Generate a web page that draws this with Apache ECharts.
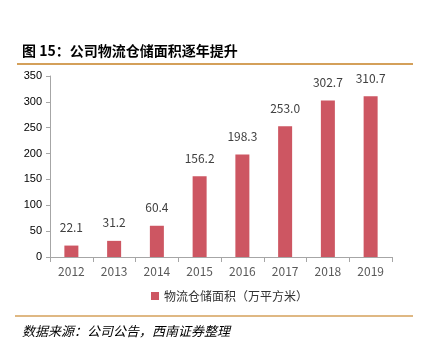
<!DOCTYPE html>
<html><head><meta charset="utf-8">
<script src="https://cdn.jsdelivr.net/npm/echarts@6/dist/echarts.min.js"></script>
<style>html,body{margin:0;padding:0;background:#fff}#c{width:428px;height:341px}</style>
</head><body><div id="c"></div>
<script>
const categories = ['2012','2013','2014','2015','2016','2017','2018','2019'];
const areaValues = [22.1, 31.2, 60.4, 156.2, 198.3, 253.0, 302.7, 310.7];
const seriesName = '物流仓储面积（万平方米）';
const titleText = '图 15：公司物流仓储面积逐年提升';
const sourceText = '数据来源：公司公告，西南证券整理';

const chart = echarts.init(document.getElementById('c'), null, {renderer:'canvas'});
const font = '"Noto Sans CJK SC", "Liberation Sans", sans-serif';
chart.setOption({
  animation:false,
  textStyle:{fontFamily:font},
  title:[
    {text:titleText, left:17, top:39, textStyle:{fontSize:14, fontWeight:'bold', color:'#000', fontFamily:font}},
    {text:sourceText, left:17, top:320, textStyle:{fontSize:13, fontWeight:'normal', fontStyle:'italic', color:'#000', fontFamily:font}}
  ],
  graphic:[
    {type:'line', shape:{x1:17,y1:64,x2:413,y2:64}, style:{stroke:'#d4a05a', lineWidth:2}},
    {type:'line', shape:{x1:15,y1:316,x2:413,y2:316}, style:{stroke:'#d4a05a', lineWidth:1.5}}
  ],
  grid:{left:50, right:36, top:76, bottom:84, containLabel:false},
  legend:{top:285, left:146, itemWidth:8, itemHeight:8, itemGap:3, icon:'rect',
    textStyle:{fontSize:12, color:'#333', fontFamily:font}, data:[seriesName]},
  xAxis:{type:'category', data:categories,
    axisLine:{lineStyle:{color:'#a6a6a6'}},
    axisTick:{show:true, alignWithLabel:false, lineStyle:{color:'#a6a6a6'}},
    axisLabel:{fontSize:12, color:'#595959', margin:8}},
  yAxis:{type:'value', min:0, max:350, interval:50,
    axisLine:{show:true, lineStyle:{color:'#a6a6a6'}},
    axisTick:{show:true, length:4, lineStyle:{color:'#a6a6a6'}},
    splitLine:{show:false},
    axisLabel:{fontSize:11, color:'#000', margin:8, fontFamily:'"Liberation Sans", Arial, sans-serif'}},
  series:[{name:seriesName, type:'bar', data:areaValues, barWidth:14,
    itemStyle:{color:'#cd5662'},
    label:{show:true, position:'top', distance:12, fontSize:12, color:'#404040',
      formatter:p=>p.value.toFixed(1)}}]
});
</script></body></html>
